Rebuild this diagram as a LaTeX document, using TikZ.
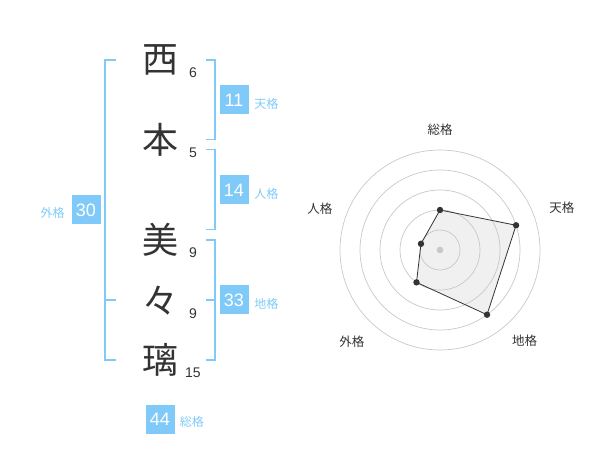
\documentclass[tikz,border=0pt]{standalone}
\usepackage{fontspec}
\setmainfont{Liberation Sans}
\newfontfamily\jp{Noto Sans CJK JP}
\definecolor{kakublue}{RGB}{128,202,250}
\definecolor{kakutext}{RGB}{51,51,51}
\definecolor{ringgray}{RGB}{200,200,200}
\definecolor{polyfill}{RGB}{240,240,240}

\begin{document}
\begin{tikzpicture}[x=1pt,y=-1pt,
  moji/.style={font=\jp\fontsize{36}{36}\selectfont, text=kakutext, inner sep=0pt},
  kaku/.style={font=\fontsize{14}{14}\selectfont, text=kakutext, inner sep=0pt},
  kbox/.style={fill=kakublue, text=white, minimum size=29pt, inner sep=0pt,
               font=\fontsize{18}{18}\selectfont},
  klabel/.style={font=\jp\fontsize{12}{12}\selectfont, text=kakublue, inner sep=0pt},
  bracket/.style={draw=kakublue, line width=1.6pt},
  ring/.style={draw=ringgray, line width=0.7pt},
  poly/.style={draw=kakutext, line width=0.8pt},
  rlabel/.style={font=\jp\fontsize{12.5}{12.5}\selectfont, text=kakutext, inner sep=0pt}]
  \useasboundingbox (0,0) rectangle (600,470);

  % name and stroke counts
  \foreach \c/\s/\y [count=\i] in {西/6/60, 本/5/140, 美/9/240, 々/9/301, 璃/15/360} {
    \node[moji] (m\i) at (160,\y) {\c};
    \node[kaku] (k\i) at (193,\y+12.7) {\s};
  }

  % brackets
  \draw[bracket] (116,60) -- (105,60) -- (105,360) -- (116,360);
  \draw[bracket] (105,300) -- (116,300);
  \draw[bracket] (206,60) -- (215,60) -- (215,139.5) -- (206,139.5);
  \draw[bracket] (206,149.5) -- (215,149.5) -- (215,229.5) -- (206,229.5);
  \draw[bracket] (206,240) -- (215,240) -- (215,360) -- (206,360);
  \draw[bracket] (215,300) -- (206,300);

  % totals
  \node[kbox] (ten) at (234,100) {11};
  \node[kbox] (jin) at (234,190) {14};
  \node[kbox] (chi) at (234,300) {33};
  \node[kbox] (gai) at (86,210) {30};
  \node[kbox] (sou) at (160,419) {44};
  \node[klabel, anchor=west] (tenl) at ([shift={(5.5,4)}]ten.east) {天格};
  \node[klabel, anchor=west] (jinl) at ([shift={(5.5,4)}]jin.east) {人格};
  \node[klabel, anchor=west] (chil) at ([shift={(5.5,4)}]chi.east) {地格};
  \node[klabel, anchor=east] (gail) at ([shift={(-6.5,3)}]gai.west) {外格};
  \node[klabel, anchor=west] (soul) at ([shift={(5,3)}]sou.east) {総格};

  % radar chart
  \begin{scope}[shift={(440,250)}, y=1pt]
    \foreach \a/\v/\t/\la/\lr [count=\i] in {90/40/総格/90/120, 18/80/天格/19/129,
        -54/80/地格/-47/124, -126/40/外格/-134/127, 162/20/人格/161/127} {
      \coordinate (p\i) at (\a:\v);
      \node[rlabel] (r\i) at (\la:\lr) {\t};
    }
    \fill[polyfill] (p1) -- (p2) -- (p3) -- (p4) -- (p5) -- cycle;
    \foreach \r in {20,40,...,100}
      \draw[ring] (0,0) circle (\r);
    \fill[ringgray] (0,0) circle (3.3);
    \draw[poly] (p1) -- (p2) -- (p3) -- (p4) -- (p5) -- cycle;
    \foreach \i in {1,...,5}
      \fill[kakutext] (p\i) circle (3.2);
  \end{scope}
\end{tikzpicture}
\end{document}
